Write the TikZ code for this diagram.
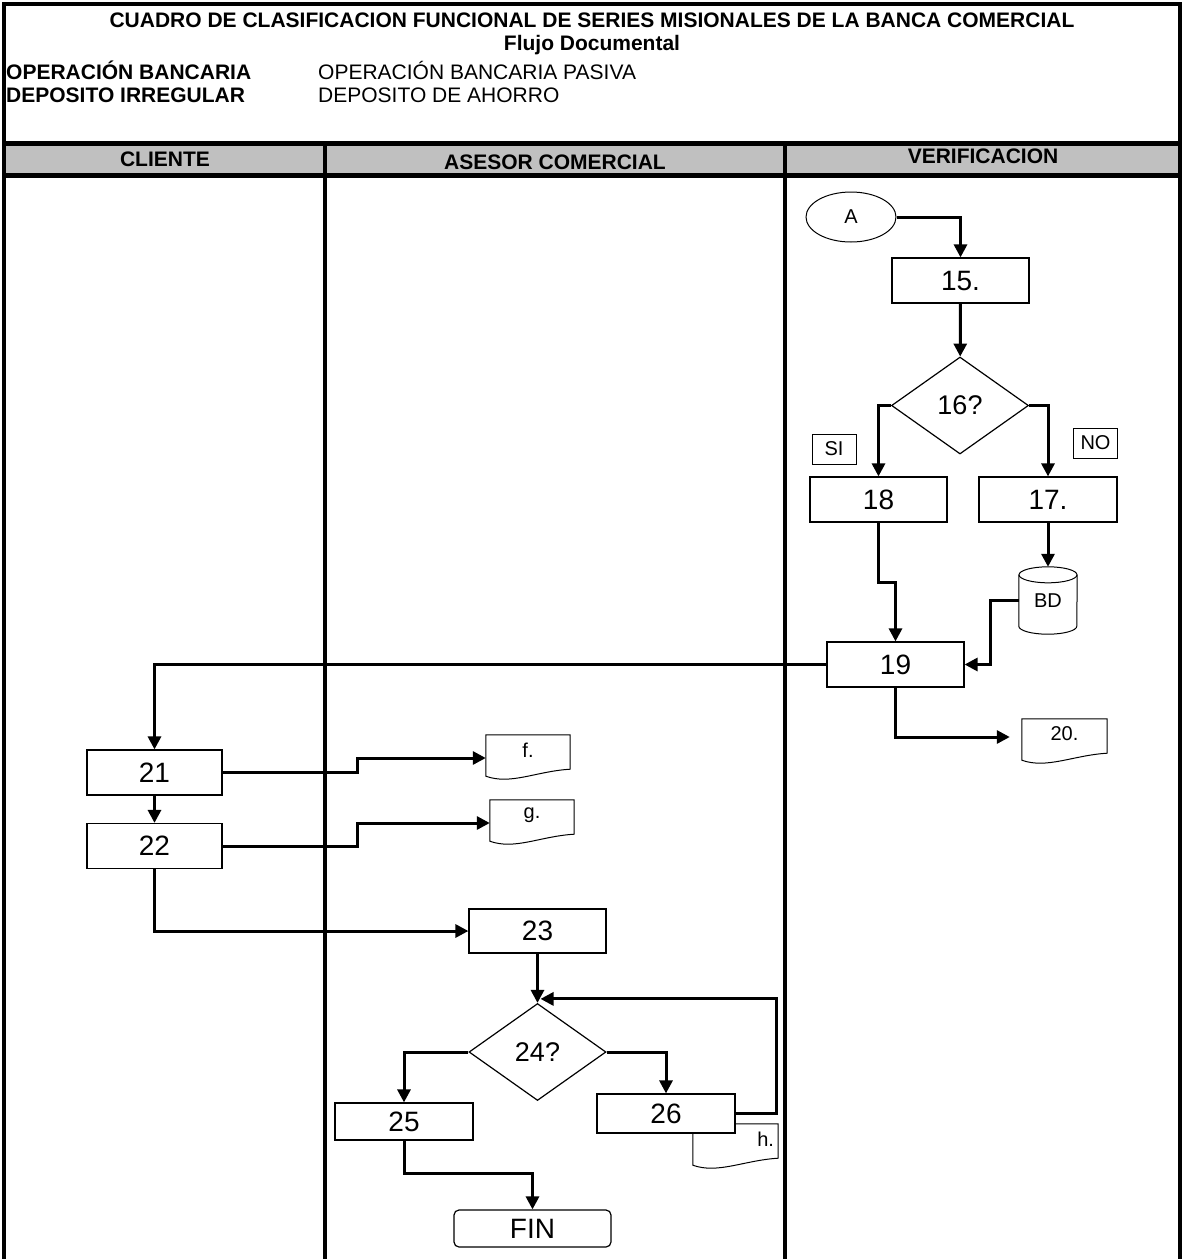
\documentclass[tikz,border=0pt]{standalone}
\usepackage{fontspec}
\setmainfont{Liberation Sans}
\usetikzlibrary{shapes,arrows.meta}

\definecolor{headgray}{RGB}{192,192,192}

% document symbol drawn round a named node
\newcommand{\drawdoc}[1]{%
  \draw[line width=1pt] (#1.north west) -- (#1.north east) -- ([yshift=-4pt]#1.south east)
    .. controls +(-34pt,-2pt) and +(25pt,-9pt) .. ([yshift=-11pt]#1.south west) -- cycle;}

\begin{document}
\begin{tikzpicture}[
    x=1pt, y=-1pt,
    box/.style={draw, line width=1.2pt, fill=white, inner sep=0pt, minimum width=137pt, minimum height=45pt, font=\fontsize{28}{30}\selectfont},
    decision/.style={diamond, draw, line width=1.2pt, inner sep=0pt, minimum width=137pt, minimum height=97pt, font=\fontsize{27}{30}\selectfont},
    tag/.style={draw, line width=1pt, inner sep=0pt, minimum width=44pt, minimum height=30pt, font=\fontsize{20}{22}\selectfont},
    doc/.style={inner sep=0pt, minimum width=85pt, minimum height=30pt, font=\fontsize{20}{22}\selectfont},
    head/.style={inner sep=0pt, font=\fontsize{21}{24}\selectfont\bfseries},
    plain/.style={inner sep=0pt, font=\fontsize{21}{24}\selectfont},
    lane/.style={line width=4pt},
    flow/.style={line width=3pt, -{Triangle[length=13pt,width=13pt]}}
]
    \useasboundingbox (0,0) rectangle (1184,1259);

    % frame and lanes
    \fill[headgray] (4,143) rectangle (1180,175);
    \draw[lane] (4,1259) -- (4,3.5) -- (1180,3.5) -- (1180,1259);
    \draw[line width=5pt] (4,143) -- (1180,143);
    \draw[line width=5pt] (4,175) -- (1180,175);
    \draw[lane] (325,143) -- (325,1259);
    \draw[lane] (785,143) -- (785,1259);

    % heading
    \node[head] (title) at (592,20) {CUADRO DE CLASIFICACION FUNCIONAL DE SERIES MISIONALES DE LA BANCA COMERCIAL};
    \node[head] (flujo) at (592,45) {Flujo Documental};
    \node[head, anchor=west] (opLbl) at (6,70) {OPERACIÓN BANCARIA};
    \node[head, anchor=west] (depLbl) at (6,95) {DEPOSITO IRREGULAR};
    \node[plain, anchor=west] (opVal) at (318,70) {OPERACIÓN BANCARIA PASIVA};
    \node[plain, anchor=west] (depVal) at (318,95) {DEPOSITO DE AHORRO};

    \node[head] (cliente) at (165,159) {CLIENTE};
    \node[head] (asesor) at (555,162) {ASESOR COMERCIAL};
    \node[head] (verif) at (983,156) {VERIFICACION};

    % verificacion
    \node[ellipse, draw, line width=1pt, minimum width=90pt, minimum height=50pt, inner sep=0pt, font=\fontsize{20}{22}\selectfont] (conA) at (851,217) {A};
    \node[box] (s15) at (960.5,280.5) {15.};
    \node[decision] (s16) at (960,405.5) {16?};
    \node[tag] (si) at (834,449) {SI};
    \node[tag] (no) at (1095.5,443) {NO};
    \node[box] (s18) at (878.5,499.5) {18};
    \node[box, minimum width=138pt] (s17) at (1048,499.5) {17.};
    \node[inner sep=0pt, minimum width=58pt, minimum height=67pt, font=\fontsize{20}{22}\selectfont] (bd) at (1048,600.5) {BD};
    \draw[line width=1pt] ([yshift=-8pt]bd.north west) -- ([yshift=8pt]bd.south west)
        arc[start angle=180, end angle=360, x radius=29pt, y radius=8pt] -- ([yshift=-8pt]bd.north east);
    \draw[line width=1pt] ([yshift=-8pt]bd.north) ellipse [x radius=29pt, y radius=8pt];
    \node[box] (s19) at (895.5,664.5) {19};
    \node[doc] (d20) at (1064.5,734) {20.};
    \drawdoc{d20}

    % cliente
    \node[box, minimum width=135pt] (s21) at (154.5,772.5) {21};
    \node[box, minimum width=135pt] (s22) at (154.5,846) {22};

    % asesor comercial
    \node[doc, minimum width=84pt] (df) at (528,750) {f.};
    \drawdoc{df}
    \node[doc, minimum width=84pt] (dg) at (532,815) {g.};
    \drawdoc{dg}
    \node[box, minimum height=44pt] (s23) at (537.5,931) {23};
    \node[decision] (s24) at (537.5,1052) {24?};
    \node[box, minimum width=138pt, minimum height=37pt] (s25) at (404,1121.5) {25};
    \node[doc, text width=77pt, align=right] (dh) at (735.5,1139) {h.};
    \drawdoc{dh}
    \node[box, minimum width=138pt, minimum height=39pt] (s26) at (666,1113.5) {26};
    \node[box, rounded corners=5pt, minimum width=157pt, minimum height=37pt] (fin) at (532.5,1228.5) {FIN};

    % connectors
    \draw[flow] (conA.east) -| (s15.north);
    \draw[flow] (s15) -- (s16);
    \draw[flow] (s16.west) -| (s18.north);
    \draw[flow] (s16.east) -| (s17.north);
    \draw[flow] (s17) -- (bd);
    \draw[flow] (s18.south) -- ++(0,60) -| (s19.north);
    \draw[flow] (bd.west) -- ++(-28,0) |- (s19.east);
    \draw[flow] (s19.west) -| (s21.north);
    \draw[flow] (s19.south) |- ([xshift=-12pt,yshift=-3pt]d20.west);
    \draw[flow] (s21) -- (s22);
    \draw[flow] (s21.east) -- ++(135,0) |- ([yshift=-8pt]df.west);
    \draw[flow] (s22.east) -- ++(135,0) |- ([yshift=-8pt]dg.west);
    \draw[flow] (s22.south) |- (s23.west);
    \draw[flow] (s23) -- (s24);
    \draw[flow] (s24.west) -| (s25.north);
    \draw[flow] (s24.east) -| (s26.north);
    \draw[flow] (s26.east) -- ++(41,0) |- ([xshift=3pt,yshift=4pt]s24.north);
    \draw[flow] (s25.south) -- ++(0,33) -| (fin.north);
\end{tikzpicture}
\end{document}
